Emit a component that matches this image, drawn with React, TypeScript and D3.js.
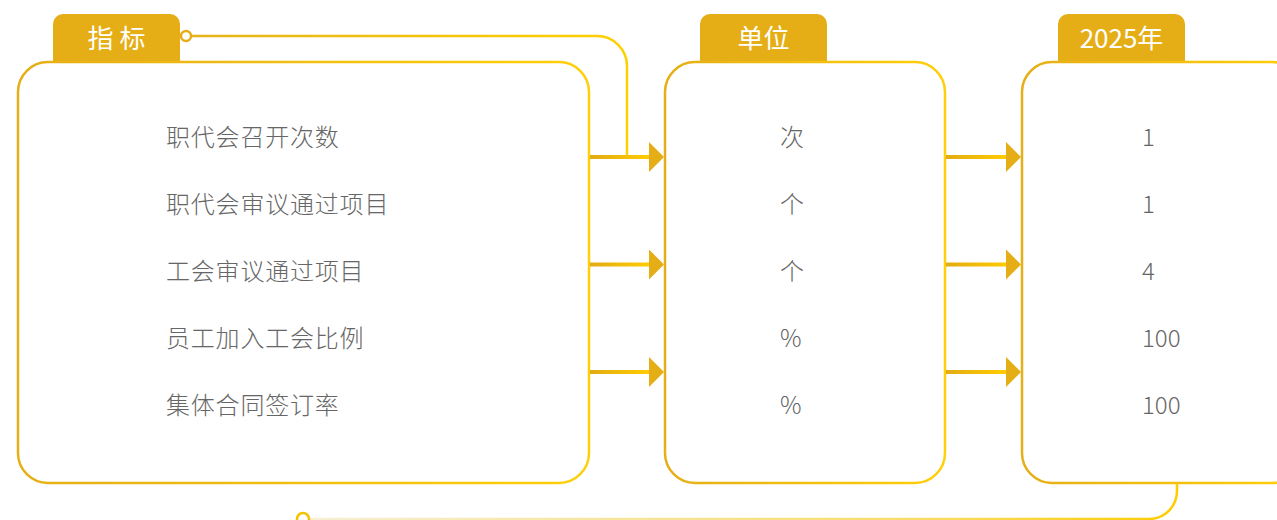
import * as d3 from "d3";

const headers = ["指 标", "单位", "2025年"];
const indicators = ["职代会召开次数", "职代会审议通过项目", "工会审议通过项目", "员工加入工会比例", "集体合同签订率"];
const units = ["次", "个", "个", "%", "%"];
const values2025 = ["1", "1", "4", "100", "100"];
const arrowSlots = [0, 1, 2];

const W = 1277;
const H = 520;
const GOLD = "#E5AE16";
const TEXT = "#666666";
const FONT = "'Noto Sans CJK SC', 'Noto Sans', sans-serif";

// column boxes (left, width), header tab and text start
const boxes = [
  { x: 18, w: 571, tabX: 53, textX: 166 },
  { x: 665, w: 280, tabX: 700, textX: 780 },
  { x: 1022, w: 280, tabX: 1058, textX: 1142 },
];
const boxTop = 62;
const boxBottom = 483;
const tabTop = 14;
const tabW = 127;
const radius = 30;

function tabPath(x: number): string {
  const p = d3.path();
  const r = 10;
  p.moveTo(x, boxTop + 1);
  p.lineTo(x, tabTop + r);
  p.arcTo(x, tabTop, x + r, tabTop, r);
  p.lineTo(x + tabW - r, tabTop);
  p.arcTo(x + tabW, tabTop, x + tabW, tabTop + r, r);
  p.lineTo(x + tabW, boxTop + 1);
  p.closePath();
  return p.toString();
}

export default function App() {
  const yRow = d3.scalePoint<string>().domain(indicators).range([135, 403]);
  const yArrow = d3.scaleLinear().domain([0, arrowSlots.length - 1]).range([157, 372]);
  const columns = [indicators, units, values2025];

  // top connector: from the "指标" tab to the first arrow
  const top = d3.path();
  top.moveTo(191, 36);
  top.lineTo(627 - 30, 36);
  top.arcTo(627, 36, 627, 66, 30);
  top.lineTo(627, yArrow(0));

  // bottom connector: from the last box back towards the left
  const bottom = d3.path();
  bottom.moveTo(1177, boxBottom + 1);
  bottom.lineTo(1177, 491);
  bottom.arcTo(1177, 519, 1149, 519, 28);
  bottom.lineTo(309, 519);

  const gaps = [
    [boxes[0].x + boxes[0].w, boxes[1].x],
    [boxes[1].x + boxes[1].w, boxes[2].x],
  ];

  return (
    <svg
      width={W}
      height={H}
      style={{ position: "absolute", left: 0, top: 0, display: "block", background: "#fff" }}
      fontFamily={FONT}
    >
      <defs>
        <linearGradient id="boxStroke" x1="0" x2="1" y1="0" y2="0">
          <stop offset="0" stopColor="#E6AE17" />
          <stop offset="1" stopColor="#FFCF0A" />
        </linearGradient>
        <linearGradient id="arrowFill" x1="0" x2="1" y1="0" y2="0">
          <stop offset="0" stopColor="#E3AB14" />
          <stop offset="1" stopColor="#FFCC00" />
        </linearGradient>
        <linearGradient id="topLink" x1="0" x2="1" y1="0" y2="0">
          <stop offset="0" stopColor="#E8B318" />
          <stop offset="1" stopColor="#FFD000" />
        </linearGradient>
        <linearGradient id="bottomLink" x1="0" x2="1" y1="0" y2="0">
          <stop offset="0" stopColor="#F6EFD2" />
          <stop offset="0.7" stopColor="#F8DC6A" />
          <stop offset="1" stopColor="#FFCC00" />
        </linearGradient>
      </defs>

      <path d={top.toString()} fill="none" stroke="url(#topLink)" strokeWidth={2.5} />
      <circle cx={186} cy={36} r={5} fill="#fff" stroke={GOLD} strokeWidth={2.5} />

      <path d={bottom.toString()} fill="none" stroke="url(#bottomLink)" strokeWidth={2.5} />
      <circle cx={303} cy={519} r={6} fill="#fff" stroke="#F2C200" strokeWidth={2.5} />

      {boxes.map((b, i) => (
        <g key={headers[i]}>
          <path d={tabPath(b.tabX)} fill={GOLD} />
          <text
            x={b.tabX + tabW / 2}
            y={36}
            fill="#fff"
            fontSize={26}
            fontWeight={400}
            textAnchor="middle"
            dominantBaseline="central"
          >
            {headers[i]}
          </text>
          <rect
            x={b.x}
            y={boxTop}
            width={b.w}
            height={boxBottom - boxTop}
            rx={radius}
            ry={radius}
            fill="#fff"
            stroke="url(#boxStroke)"
            strokeWidth={2.5}
          />
          {columns[i].map((label, j) => (
            <text
              key={j}
              x={b.textX}
              y={yRow(indicators[j])}
              fill={TEXT}
              fontSize={24}
              fontWeight={300}
              letterSpacing={i === 0 ? 0.8 : 0}
              textAnchor="start"
              dominantBaseline="central"
            >
              {label}
            </text>
          ))}
        </g>
      ))}

      {gaps.map(([x0, x1], g) =>
        arrowSlots.map((s) => {
          const y = yArrow(s);
          const tip = x1 - 1;
          const base = tip - 15;
          return (
            <g key={`${g}-${s}`}>
              <rect x={x0 + 1} y={y - 2} width={base - x0} height={4} fill="url(#arrowFill)" />
              <path d={`M${base},${y - 15}L${tip},${y}L${base},${y + 15}Z`} fill={GOLD} />
            </g>
          );
        })
      )}
    </svg>
  );
}
